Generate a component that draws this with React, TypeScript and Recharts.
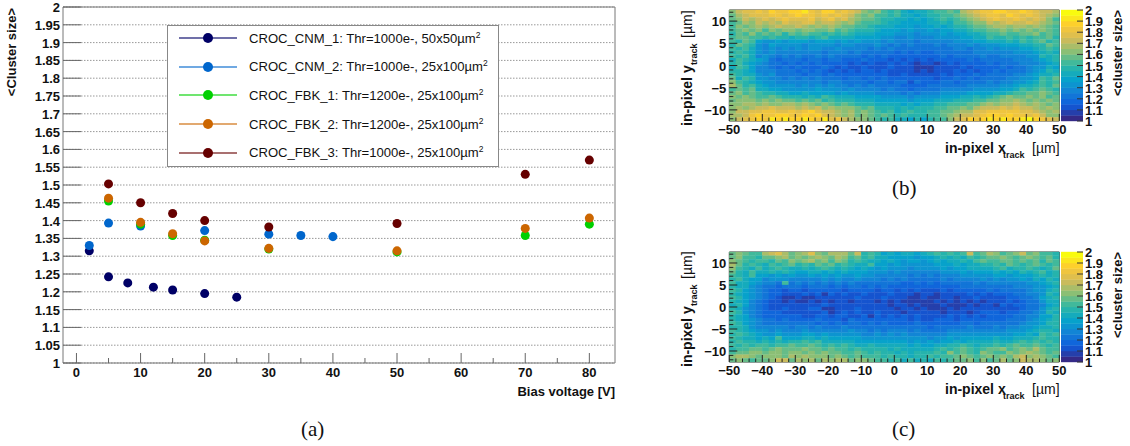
import { CartesianGrid, Legend, ReferenceArea, Scatter, ScatterChart, XAxis, YAxis, ZAxis } from "recharts";

const FONT = "'Liberation Sans', Arial, sans-serif";

// panel (a): bias voltage scan
const cnm1Volts = [2, 5, 8, 12, 15, 20, 25];
const cnm1Size = [1.315, 1.242, 1.225, 1.213, 1.205, 1.195, 1.185];
const cnm2Volts = [2, 5, 10, 20, 30, 35, 40];
const cnm2Size = [1.33, 1.393, 1.385, 1.372, 1.362, 1.358, 1.355];
const fbk1Volts = [5, 10, 15, 20, 30, 50, 70, 80];
const fbk1Size = [1.455, 1.39, 1.358, 1.345, 1.32, 1.312, 1.358, 1.39];
const fbk2Volts = [5, 10, 15, 20, 30, 50, 70, 80];
const fbk2Size = [1.463, 1.395, 1.363, 1.343, 1.322, 1.315, 1.378, 1.407];
const fbk3Volts = [5, 10, 15, 20, 30, 50, 70, 80];
const fbk3Size = [1.503, 1.45, 1.42, 1.4, 1.382, 1.392, 1.53, 1.57];

const zip = (xs: number[], ys: number[]) => xs.map((x, i) => ({ x, y: ys[i] }));

const seriesA = [
  { name: "CROC_CNM_1: Thr=1000e-, 50x50", color: "#000066", data: zip(cnm1Volts, cnm1Size) },
  { name: "CROC_CNM_2: Thr=1000e-, 25x100", color: "#0066cc", data: zip(cnm2Volts, cnm2Size) },
  { name: "CROC_FBK_1: Thr=1200e-, 25x100", color: "#00d000", data: zip(fbk1Volts, fbk1Size) },
  { name: "CROC_FBK_2: Thr=1200e-, 25x100", color: "#cc6600", data: zip(fbk2Volts, fbk2Size) },
  { name: "CROC_FBK_3: Thr=1000e-, 25x100", color: "#660000", data: zip(fbk3Volts, fbk3Size) },
];

const sizeTicks = [
  1, 1.05, 1.1, 1.15, 1.2, 1.25, 1.3, 1.35, 1.4, 1.45, 1.5, 1.55, 1.6, 1.65, 1.7, 1.75, 1.8, 1.85, 1.9, 1.95, 2,
];
const voltTicks = [0, 5, 10, 15, 20, 25, 30, 35, 40, 45, 50, 55, 60, 65, 70, 75, 80];

// 20 contour colours of the palette, 1.00 to 2.00 in steps of 0.05
const palette = [
  "#352a87", "#253fab", "#1554cf", "#1066db", "#1275d8", "#1285d5", "#0d94d0", "#07a2cb", "#15abbc", "#26b3ac",
  "#41b99b", "#66bc88", "#8bbf75", "#aabd69", "#c9bb5c", "#dfbf4d", "#efc53f", "#fdd02c", "#fbe61d", "#f9fb0e",
];

// maps: top row first, one character per 2um bin, base 20 contour index (0-9, a-j)
const mapB = [
  "ceffgfhggh higfhhfgfe cbca9a8788 9aabadefgg hhgghgfeed",
  "bdefffggfg hggfgfgfec bcaa9a8878 99aabcdefg gfhgfgfedc",
  "bcedefefgf ffgefgefdc bba9988787 89a9abcdef gffgfefeca",
  "abdcededfe effdeedcdb aaa9887777 8898aabcce defeefedcb",
  "acbcdcdedd edcdcdcbba a988877767 787899abbc ddcddcdcba",
  "abcbcacbcc bccbbcaba9 9987776766 7677889aab bcbcbcbcba",
  "9bacabab9b abaa9a9a98 8877766656 667677889a abaabbcaba",
  "abbaa9a998 9989a88887 7776655655 566667788a 99a9a9aab9",
  "a9ba766767 7767776767 6665655545 5555666778 8898a9ab9a",
  "9ba9657666 6566665665 5565454544 4545556566 67778899ba",
  "a9a8656565 6566556555 5454544444 4444554556 56667789a9",
  "9a98656555 5555455545 4444434343 3444444555 5556667898",
  "a9a8565454 5445454444 3434333333 3343444454 4555566989",
  "8a98764344 4344344333 4333232323 2333334344 4445556789",
  "9a87654434 3434333323 2322323212 2123233334 3444555678",
  "8a97554343 4333432322 3222322211 1222232333 3434456687",
  "9987555444 3434323232 3323222212 1222323233 4344456798",
  "a988656444 4344343333 3333223222 2232333434 4445567889",
  "b8a9665545 4545444344 3434333333 3233434344 4455667a9b",
  "ca98766555 5555455444 4344344243 3344344445 4556678a9a",
  "db9a876666 5656565545 4544443333 4444445555 5667889a9b",
  "abab887766 6667666565 5554544344 4455555666 6778a9aba9",
  "bcaba99887 7877776766 6655554545 5566667777 889aabbcba",
  "cbcbaaba99 9898a98887 7776666566 6677788989 abcbbcbcab",
  "bcccbcbcbb abab9a9998 8877777677 7888999aab bccdcbcbcb",
  "ccddcdccdd cdcbcbaba9 9988887878 899aaabbcd cddedcdcbc",
  "cdcdeefeee dedecdcccb ab99989899 9aabbcbdee efefeedcdc",
  "ceeffggffg fghfeedcdb cba9a89a99 aabbcddffg ggggffedcd",
  "ddeghgghhg ghghfedcdb cbaba9a999 aabcdeefgh hghggfgecc",
  "cefghgihih hihgifgedc cba9a88797 9aacefhghi hihhijhgfe",
];

const mapC = [
  "bcbaadefdb cdfcbdddbe 9a97878878 9a9a9aeabd cabcebcaa9",
  "bcaa9bbcdb cbcdcbdcab 9a88777767 789898a9ab bcbabcbab9",
  "cba9aa9bac bcdbcacb9a 9887876776 7878898aba abbabab9ba",
  "db9a98a9ab 9a9bab9a98 8a77676666 6777878899 a9ba9aba9a",
  "ca98a89a98 8989a98987 8767666566 6676778888 9a899a989b",
  "b98a889898 7788787877 7666565555 5566676777 8787989a89",
  "a98a776767 6676767667 6655555454 5455566666 7767778989",
  "9a87756665 5555656556 5554545444 4454555565 6566768798",
  "a8876554a4 5454545454 4444443343 4344444545 5555566789",
  "9886544344 4344434344 3434333333 3333344444 4445556678",
  "a976543323 3233333233 3323323232 2232333334 3444456689",
  "9876543322 2323132322 3222322212 2122223232 3334455698",
  "a976543211 2112222223 2223222112 1122122322 2233445789",
  "9875432212 1121212212 2212121111 1212121212 2232344688",
  "8975432222 2222322222 2222122121 1121112122 1323344578",
  "9865432232 2233112223 2222212212 1112122222 2222344689",
  "a965433322 2222312323 2232221222 2212221233 3233445698",
  "9875433333 3223323322 3132323232 2223232323 3334455779",
  "9876544343 3334333243 3333333232 2333233333 3344456789",
  "a976544444 4443434344 3434333343 3333344344 4444566799",
  "9986555554 5545444544 4444444444 3444445444 5455667889",
  "a987665655 5655555565 5454555454 4445555555 5566678998",
  "9a98766766 6776766666 5565656555 5556666666 6667787a9a",
  "a988787a77 7887877777 6666666666 5667677777 8778889a99",
  "9a99898989 9a9a888887 7777777676 7677878888 9889a9a9a9",
  "a9a9aa9aab aaba9a9a98 8988888787 78899a9899 a9abaaba9a",
  "9aabbabcbb bcbbabaa9a 9999898888 89a9aba9ab bcabcbdbaa",
  "abbccbccbc cbcbcbbaab a9a9989899 9a9caba9cb aacbcdcbab",
  "cddcbcccbd cdcccbcbab aaa9a99899 a9aabcbabc bcbdecdcba",
  "bcbabbceeb dcdbdcddbc cbaa9a8a89 8a9abbcaca bdbceddcbc",
];

const xTrackTicks = [
  -50, -48, -46, -44, -42, -40, -38, -36, -34, -32, -30, -28, -26, -24, -22, -20, -18, -16, -14, -12, -10, -8, -6, -4,
  -2, 0, 2, 4, 6, 8, 10, 12, 14, 16, 18, 20, 22, 24, 26, 28, 30, 32, 34, 36, 38, 40, 42, 44, 46, 48, 50,
];
const yTrackTicks = [-12, -11, -10, -9, -8, -7, -6, -5, -4, -3, -2, -1, 0, 1, 2, 3, 4, 5, 6, 7, 8, 9, 10, 11, 12];
const barTicks = [1, 1.1, 1.2, 1.3, 1.4, 1.5, 1.6, 1.7, 1.8, 1.9, 2];

const cells = (rows: string[]) =>
  rows.flatMap((row, r) =>
    row
      .replace(/ /g, "")
      .split("")
      .map((c, i) => ({ x: -49 + 2 * i, y: 12.5 - ((r + 0.5) * 25) / 30, level: parseInt(c, 20) }))
  );

const barCells = palette.map((_, i) => ({ x: 0.5, y: 1.025 + i * 0.05, level: i }));

const boldText = { fontFamily: FONT, fontWeight: 700, fontSize: 13, fill: "#111" };
const minus = (v: number) => String(v).replace("-", "\u2212");

function SizeTick({ x, y, payload }: any) {
  return (
    <g>
      <line x1={x} x2={x + 18} y1={y} y2={y} stroke="#666" />
      <text x={x - 3} y={y + 5} textAnchor="end" {...boldText}>{payload.value}</text>
    </g>
  );
}

function VoltTick({ x, y, payload }: any) {
  const major = payload.value % 10 === 0;
  return (
    <g>
      <line x1={x} x2={x} y1={y} y2={y - (major ? 10 : 5)} stroke="#666" />
      {major && <text x={x} y={y + 14} textAnchor="middle" {...boldText}>{payload.value}</text>}
    </g>
  );
}

function XTrackTick({ x, y, payload }: any) {
  const major = payload.value % 10 === 0;
  return (
    <g>
      <line x1={x} x2={x} y1={y} y2={y - (major ? 7 : 3.5)} stroke="#222" />
      {major && <text x={x} y={y + 13} textAnchor="middle" {...boldText}>{minus(payload.value)}</text>}
    </g>
  );
}

function YTrackTick({ x, y, payload }: any) {
  const major = payload.value % 5 === 0;
  return (
    <g>
      <line x1={x} x2={x + (major ? 8 : 4)} y1={y} y2={y} stroke="#222" />
      {major && <text x={x - 3} y={y + 5} textAnchor="end" {...boldText}>{minus(payload.value)}</text>}
    </g>
  );
}

function BarTick({ x, y, payload }: any) {
  return (
    <g>
      <line x1={x} x2={x - 6} y1={y} y2={y} stroke="#333" />
      <text x={x + 2} y={y + 5} {...boldText}>{payload.value}</text>
    </g>
  );
}

function LegendBox({ payload }: any) {
  return (
    <div style={{ width: 332, height: 142, border: "1px solid #888", background: "#fff", boxSizing: "border-box" }}>
      {(payload ?? []).map((entry: any, i: number) => (
        <div key={i} style={{ position: "absolute", left: 12, top: 0 + i * 28.6, height: 28.6, display: "flex", alignItems: "center" }}>
          <svg width={58} height={28}>
            <line x1={0} x2={58} y1={13} y2={13} stroke={entry.color} strokeWidth={1.6} strokeOpacity={0.75} />
            <circle cx={29} cy={13} r={5} fill={entry.color} />
          </svg>
          <span style={{ marginLeft: 12, fontFamily: FONT, fontSize: 13.1, color: "#111", whiteSpace: "nowrap", marginTop: -2 }}>
            {entry.value}{"\u00b5"}m<sup style={{ fontSize: 8.5, lineHeight: 0 }}>2</sup>
          </span>
        </div>
      ))}
    </div>
  );
}

function CellShape({ cx, cy, payload, w, h }: any) {
  return <rect x={cx - w / 2} y={cy - h / 2} width={w} height={h} fill={palette[payload.level]} />;
}

function HeatPanel({ rows, top, height }: { rows: string[]; top: number; height: number }) {
  const bottom = 10 + height;
  return (
    <>
      <ScatterChart
        width={420}
        height={bottom + 60}
        margin={{ top: 10, right: 30.7, bottom: 0, left: 0 }}
        style={{ position: "absolute", left: 670, top: top - 10 }}
      >
        <XAxis type="number" dataKey="x" domain={[-50, 50]} ticks={xTrackTicks} interval={0} height={60} axisLine={false} tickLine={false} tickSize={0} tickMargin={0} tick={(p: any) => <XTrackTick {...p} />} />
        <YAxis type="number" dataKey="y" domain={[-12.5, 12.5]} ticks={yTrackTicks} interval={0} width={59.3} axisLine={false} tickLine={false} tickSize={0} tickMargin={0} tick={(p: any) => <YTrackTick {...p} />} />
        <Scatter data={cells(rows)} isAnimationActive={false} shape={(p: any) => <CellShape {...p} w={7} h={height / 30 + 0.3} />} />
        <ReferenceArea x1={-50} x2={50} y1={-12.5} y2={12.5} fill="none" stroke="#333" strokeWidth={1} />
        <text x={945 - 670} y={bottom + 32} {...boldText} fontSize={14}>in-pixel x</text>
        <text x={1003 - 670} y={bottom + 37} {...boldText} fontSize={9}>track</text>
        <text x={1032 - 670} y={bottom + 32} {...boldText} fontSize={14} fontWeight={400}>[{"\u00b5"}m]</text>
        <g transform={`translate(${692 - 670},${bottom + 5}) rotate(-90)`}>
          <text x={0} y={0} {...boldText} fontSize={14}>in-pixel y</text>
          <text x={61} y={5} {...boldText} fontSize={9}>track</text>
          <text x={88} y={0} {...boldText} fontSize={14} fontWeight={400}>[{"\u00b5"}m]</text>
        </g>
      </ScatterChart>
      <ScatterChart
        width={69}
        height={bottom + 12}
        margin={{ top: 10, right: 0, bottom: 12, left: 0 }}
        style={{ position: "absolute", left: 1061, top: top - 10 }}
      >
        <XAxis type="number" dataKey="x" domain={[0, 1]} hide />
        <YAxis type="number" dataKey="y" orientation="right" domain={[1, 2]} ticks={barTicks} interval={0} width={47} axisLine={false} tickLine={false} tickSize={0} tickMargin={0} tick={(p: any) => <BarTick {...p} />} />
        <Scatter data={barCells} isAnimationActive={false} shape={(p: any) => <CellShape {...p} w={22} h={height / 20 + 0.4} />} />
        <text transform={`translate(61,10) rotate(-90)`} textAnchor="end" {...boldText}>{"<cluster size>"}</text>
      </ScatterChart>
    </>
  );
}

function Caption({ x, y, text }: { x: number; y: number; text: string }) {
  return (
    <div style={{ position: "absolute", left: x, top: y, fontFamily: "'Liberation Serif', serif", fontSize: 21, lineHeight: "24px", color: "#111" }}>
      {text}
    </div>
  );
}

export default function App() {
  return (
    <div style={{ position: "absolute", left: 0, top: 0, width: 1130, height: 446, background: "#fff", overflow: "hidden" }}>
      <ScatterChart width={640} height={420} margin={{ top: 7, right: 25, bottom: 0, left: 0 }} style={{ position: "absolute", left: 0, top: 0 }}>
        <CartesianGrid vertical={false} stroke="#999" strokeDasharray="1.5 1.5" />
        <XAxis type="number" dataKey="x" domain={[-2.1, 84]} ticks={voltTicks} interval={0} height={57} axisLine={false} tickLine={false} tickSize={0} tickMargin={0} tick={(p: any) => <VoltTick {...p} />} />
        <YAxis type="number" dataKey="y" domain={[1, 2]} ticks={sizeTicks} interval={0} width={63} axisLine={false} tickLine={false} tickSize={0} tickMargin={0} tick={(p: any) => <SizeTick {...p} />} />
        <ZAxis range={[80, 80]} />
        <ReferenceArea x1={-2.1} x2={84} y1={1} y2={2} fill="none" stroke="#777" strokeWidth={1} />
        {seriesA.map((s) => (
          <Scatter key={s.name} name={s.name} data={s.data} fill={s.color} isAnimationActive={false} />
        ))}
        <Legend
          layout="vertical"
          align="center"
          verticalAlign="middle"
          content={(p: any) => <LegendBox {...p} />}
          wrapperStyle={{ position: "absolute", left: 167, top: 25, width: 332, height: 142 }}
        />
        <text x={615} y={396} textAnchor="end" {...boldText}>Bias voltage [V]</text>
        <text transform="translate(16,8) rotate(-90)" textAnchor="end" {...boldText}>{"<Cluster size>"}</text>
      </ScatterChart>
      <HeatPanel rows={mapB} top={10} height={111} />
      <HeatPanel rows={mapC} top={252} height={110} />
      <Caption x={301} y={417} text="(a)" />
      <Caption x={892} y={176} text="(b)" />
      <Caption x={892} y={417} text="(c)" />
    </div>
  );
}
